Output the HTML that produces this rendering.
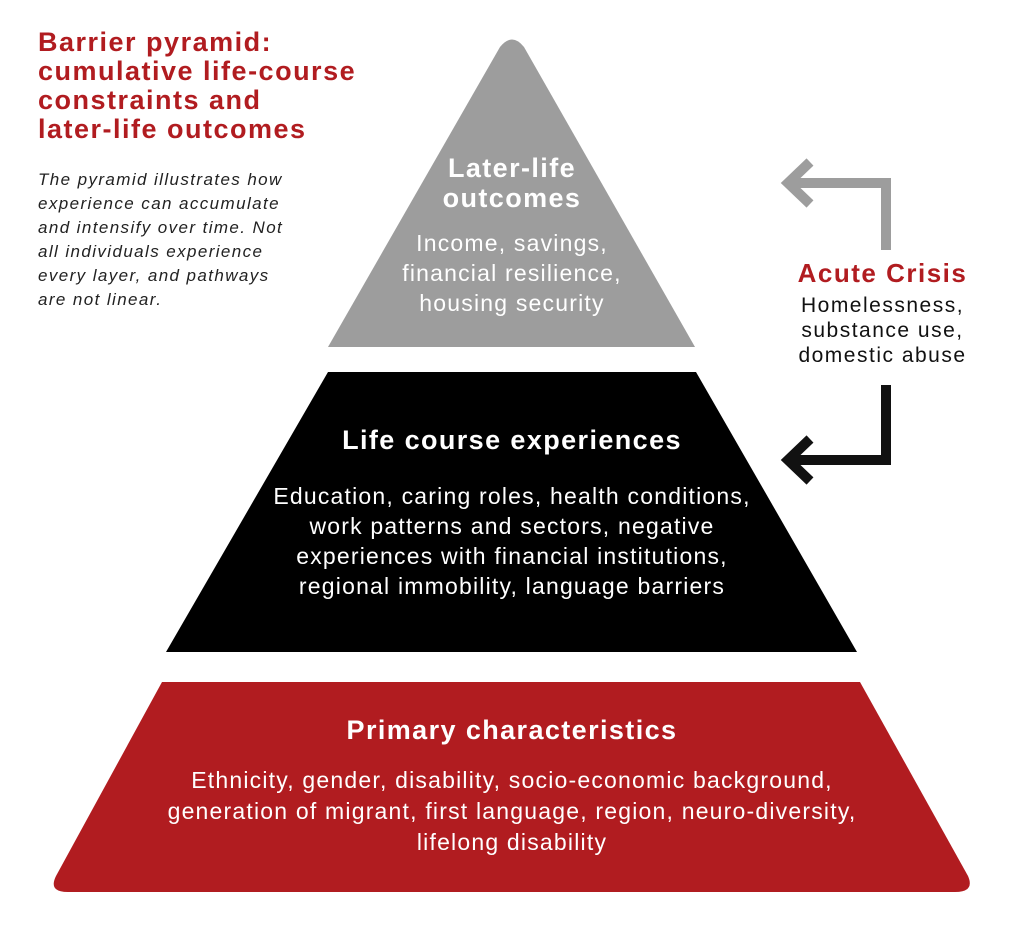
<!DOCTYPE html>
<html><head><meta charset="utf-8"><style>
body{margin:0;width:1024px;height:927px;background:#fff;font-family:"Liberation Sans",sans-serif;position:relative;overflow:hidden}
.a{position:absolute;text-align:center;white-space:nowrap}
.b{font-size:23px;letter-spacing:1.2px}
.h{font-weight:bold;font-size:27px;letter-spacing:1.4px}
</style></head><body>
<svg width="1024" height="927" style="position:absolute;left:0;top:0">
<path d="M500,47 Q512,32 524,47 L695,347 L328,347 Z" fill="#9d9d9d"/>
<polygon points="328,372 696,372 857,652 166,652" fill="#000"/>
<path d="M162,682 L860,682 L968,876 Q975,892 955,892 L68,892 Q48,892 56,876 Z" fill="#b11c20"/>
<g fill="none" stroke-width="10" stroke-linejoin="miter">
<path d="M886,250 L886,183 L790,183" stroke="#9d9d9d"/>
<path d="M810,162 L788,183 L810,204" stroke="#9d9d9d"/>
<path d="M886,385 L886,460 L790,460" stroke="#111"/>
<path d="M810,439 L788,460 L810,481" stroke="#111"/>
</g>
</svg>
<div class="a" style="left:38px;top:28px;text-align:left;color:#b11c20;font-weight:bold;font-size:27px;letter-spacing:1.5px;line-height:29px">Barrier pyramid:<br>cumulative life-course<br>constraints and<br>later-life outcomes</div>
<div class="a" style="left:38px;top:168px;text-align:left;color:#222;font-style:italic;font-size:17px;letter-spacing:1.4px;line-height:24px">The pyramid illustrates how<br>experience can accumulate<br>and intensify over time. Not<br>all individuals experience<br>every layer, and pathways<br>are not linear.</div>
<div class="a h" style="left:362px;width:300px;top:153px;color:#fff;line-height:30px">Later-life<br>outcomes</div>
<div class="a b" style="left:312px;width:400px;top:228px;color:#fff;line-height:30px">Income, savings,<br>financial resilience,<br>housing security</div>
<div class="a" style="left:770px;width:225px;top:258px;color:#b11c20;font-weight:bold;font-size:26px;letter-spacing:1.5px;line-height:30px">Acute Crisis</div>
<div class="a" style="left:770px;width:225px;top:293px;color:#111;font-size:21px;letter-spacing:1.5px;line-height:25px">Homelessness,<br>substance use,<br>domestic abuse</div>
<div class="a h" style="left:262px;width:500px;top:425px;color:#fff;line-height:30px">Life course experiences</div>
<div class="a b" style="left:162px;width:700px;top:481px;color:#fff;line-height:30px">Education, caring roles, health conditions,<br>work patterns and sectors, negative<br>experiences with financial institutions,<br>regional immobility, language barriers</div>
<div class="a h" style="left:212px;width:600px;top:715px;color:#fff;line-height:30px">Primary characteristics</div>
<div class="a b" style="left:62px;width:900px;top:765px;color:#fff;line-height:31px">Ethnicity, gender, disability, socio-economic background,<br>generation of migrant, first language, region, neuro-diversity,<br>lifelong disability</div>
</body></html>
